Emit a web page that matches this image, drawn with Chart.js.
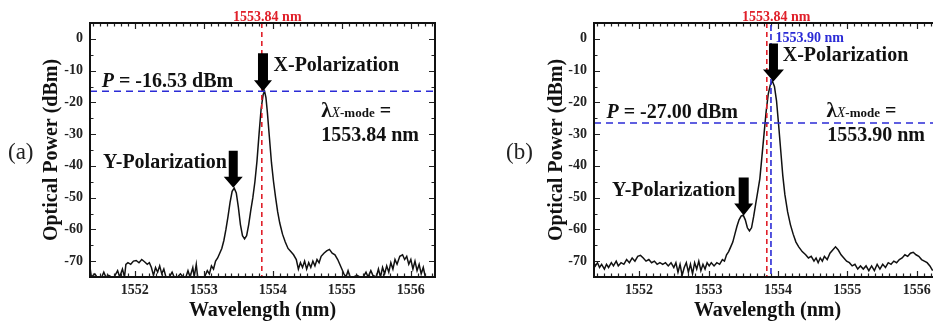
<!DOCTYPE html>
<html>
<head>
<meta charset="utf-8">
<script src="https://cdn.jsdelivr.net/npm/chart.js@4.4.0/dist/chart.umd.min.js"></script>
<style>
  html, body { margin: 0; padding: 0; overflow: hidden; background: #fff; width: 933px; height: 323px; }
  canvas { position: absolute; top: 0; }
  #chartA { left: 0; }
  #chartB { left: 470px; }
  .panel { position: absolute; font: 23px "Liberation Serif", serif; color: #222; }
</style>
</head>
<body>
<canvas id="chartA" width="470" height="323"></canvas>
<canvas id="chartB" width="490" height="323"></canvas>
<div class="panel" style="left:8px; top:139px;">(a)</div>
<div class="panel" style="left:506px; top:139px;">(b)</div>
<script>
// ---- data ----
let xTicks = [1552, 1553, 1554, 1555, 1556];
let yTicks = [0, -10, -20, -30, -40, -50, -60, -70];

// panel (a)
let wavelengthA = [
  1551.35, 1551.37, 1551.42, 1551.45, 1551.52, 1551.55, 1551.58, 1551.62, 1551.66, 1551.70,
  1551.75, 1551.78, 1551.82, 1551.85, 1551.87, 1551.90, 1551.94, 1551.98, 1552.02, 1552.06,
  1552.10, 1552.14, 1552.18, 1552.21, 1552.24, 1552.27, 1552.30, 1552.33, 1552.36, 1552.39,
  1552.42, 1552.45, 1552.50, 1552.54, 1552.57, 1552.62, 1552.66, 1552.70, 1552.74, 1552.77,
  1552.80, 1552.84, 1552.86, 1552.89, 1552.91, 1552.96, 1553.01, 1553.05, 1553.08, 1553.11,
  1553.14, 1553.17, 1553.20, 1553.23, 1553.26, 1553.29, 1553.32, 1553.35, 1553.38, 1553.41,
  1553.44, 1553.47, 1553.50, 1553.53, 1553.56, 1553.59, 1553.62, 1553.65, 1553.68, 1553.71,
  1553.74, 1553.77, 1553.80, 1553.83, 1553.86, 1553.88, 1553.90, 1553.92, 1553.95, 1553.98,
  1554.01, 1554.04, 1554.07, 1554.10, 1554.14, 1554.18, 1554.22, 1554.26, 1554.30, 1554.34,
  1554.37, 1554.40, 1554.43, 1554.46, 1554.49, 1554.52, 1554.55, 1554.58, 1554.61, 1554.64,
  1554.67, 1554.70, 1554.74, 1554.78, 1554.82, 1554.86, 1554.90, 1554.94, 1554.97, 1555.00,
  1555.03, 1555.06, 1555.09, 1555.12, 1555.17, 1555.22, 1555.26, 1555.31, 1555.35, 1555.38,
  1555.42, 1555.45, 1555.50, 1555.53, 1555.56, 1555.59, 1555.62, 1555.65, 1555.68, 1555.71,
  1555.74, 1555.77, 1555.80, 1555.84, 1555.88, 1555.91, 1555.94, 1555.97, 1556.00, 1556.03,
  1556.06, 1556.09, 1556.12, 1556.15, 1556.18, 1556.21, 1556.25, 1556.30, 1556.35
];
let powerA = [
  -72, -75, -74, -75, -75, -73.5, -75, -74.5, -75, -75,
  -73, -75, -72.5, -75, -71, -70.5, -71, -70, -69.8, -70.5,
  -69.5, -70.2, -71, -70.5, -72, -74.5, -72, -73.5, -71.5, -74,
  -72.5, -75, -75, -73.5, -75, -75, -74, -75, -75, -73,
  -75, -72, -75, -71, -75, -75, -75, -73, -74, -71.5,
  -72.5, -70, -69, -67.5, -66, -63.5, -60, -56, -51.5, -48,
  -47, -48.5, -53, -58.5, -62, -63, -62, -58.5, -54, -50,
  -45, -38.5, -30, -22, -17.5, -16.5, -18.5, -23, -31, -39,
  -45, -50, -54.5, -58, -61.5, -64, -66, -67, -68, -69.5,
  -72.5, -70.5, -72, -70, -72.5, -70.5, -72, -70, -71.5, -69.5,
  -70.5, -68.5, -67.5, -66.8, -66.3, -67.5, -68, -69.5, -71, -72.5,
  -74, -75, -73, -75, -75, -74.5, -75, -75, -73.5, -75,
  -73, -74.5, -75, -72.5, -75, -72, -74, -71.5, -73.5, -70.5,
  -72.5, -69.5, -71, -68.5, -68, -69.5, -68.5, -71, -69.5, -72.5,
  -70, -73, -71, -74, -72, -75, -75, -75, -75
];

// panel (b)
let wavelengthB = [
  1551.34, 1551.37, 1551.40, 1551.43, 1551.46, 1551.50, 1551.53, 1551.56, 1551.60, 1551.63,
  1551.67, 1551.70, 1551.74, 1551.78, 1551.82, 1551.86, 1551.90, 1551.94, 1551.98, 1552.02,
  1552.06, 1552.10, 1552.14, 1552.18, 1552.22, 1552.26, 1552.30, 1552.34, 1552.38, 1552.42,
  1552.46, 1552.50, 1552.53, 1552.56, 1552.59, 1552.62, 1552.65, 1552.68, 1552.71, 1552.74,
  1552.77, 1552.80, 1552.83, 1552.86, 1552.89, 1552.92, 1552.95, 1552.98, 1553.01, 1553.04,
  1553.08, 1553.12, 1553.16, 1553.20, 1553.23, 1553.26, 1553.29, 1553.32, 1553.35, 1553.38,
  1553.41, 1553.44, 1553.47, 1553.50, 1553.53, 1553.56, 1553.59, 1553.62, 1553.65, 1553.68,
  1553.71, 1553.74, 1553.77, 1553.80, 1553.83, 1553.86, 1553.89, 1553.92, 1553.95, 1553.98,
  1554.01, 1554.04, 1554.07, 1554.10, 1554.14, 1554.18, 1554.22, 1554.26, 1554.30, 1554.35,
  1554.40, 1554.44, 1554.48, 1554.52, 1554.55, 1554.58, 1554.61, 1554.64, 1554.67, 1554.71,
  1554.75, 1554.79, 1554.83, 1554.87, 1554.91, 1554.95, 1554.99, 1555.03, 1555.07, 1555.11,
  1555.15, 1555.19, 1555.23, 1555.27, 1555.31, 1555.35, 1555.39, 1555.43, 1555.47, 1555.51,
  1555.55, 1555.59, 1555.63, 1555.67, 1555.71, 1555.75, 1555.79, 1555.83, 1555.87, 1555.91,
  1555.95, 1555.99, 1556.03, 1556.07, 1556.11, 1556.15, 1556.19, 1556.23
];
let powerB = [
  -70, -71.5, -70.5, -72, -71, -72.5, -71, -72, -70.5, -71.5,
  -70, -71.5, -70.5, -71, -69.5, -70.5, -69, -70, -68.5, -68.2,
  -69, -70, -69.5, -70.5, -70, -71, -70.5, -71, -70.5, -71.5,
  -70.5, -72, -70.5, -73.5, -71, -74.5, -72, -70.5, -73.5, -71,
  -74, -70.5, -72.5, -70, -73, -71, -72.5, -70.5, -71.5, -70.5,
  -71.5, -70.5, -71, -69.5, -70, -68, -67, -65.5, -64, -61.5,
  -59, -57, -55.8, -55.5, -57, -59.5, -60.5, -59.5, -56, -52,
  -48, -44, -37, -30, -23, -17.5, -14.5, -13.3, -15, -19.5,
  -27, -35, -43, -49, -54.5, -58.5, -61.5, -64, -65.5, -67,
  -68, -69, -68.5, -70, -69, -70.5, -69, -70, -68.5, -69.5,
  -67.5, -66.5, -65.5, -66.5, -68, -69, -70, -70.5, -71.5, -71,
  -72.5, -71.5, -72.5, -71.5, -73, -71.5, -73, -71, -72.5, -71,
  -72, -70.5, -71, -70, -70.5, -69.5, -69, -68, -68.5, -67.5,
  -67.2, -68, -68.5, -69.5, -70, -70.5, -71.5, -73
];

let refWavelength = 1553.84;   // red marker, both panels
let modeWavelengthB = 1553.90; // blue marker, panel (b)
let powerLineA = -16.5;
let powerLineB = -26.5;

let RED = "#e0202a";
let BLUE = "#2b2bd6";
let SERIF = '"Liberation Serif", "Times New Roman", serif';

function f(size, style) {
  return (style || "bold") + " " + size + "px " + SERIF;
}

// draw text made of several pieces with different fonts on one baseline
function drawRich(ctx, parts, x, y, align) {
  ctx.textBaseline = "alphabetic";
  ctx.textAlign = "left";
  let w = 0;
  for (let p of parts) { ctx.font = p[1]; w += ctx.measureText(p[0]).width; }
  let cx = align === "center" ? x - w / 2 : x;
  for (let p of parts) {
    ctx.font = p[1];
    ctx.fillStyle = p[2] || "#111";
    ctx.fillText(p[0], cx, y);
    cx += ctx.measureText(p[0]).width;
  }
}

function drawArrow(ctx, tx, ty, len, shaft, head, headLen) {
  ctx.beginPath();
  ctx.moveTo(tx - shaft / 2, ty - len);
  ctx.lineTo(tx + shaft / 2, ty - len);
  ctx.lineTo(tx + shaft / 2, ty - headLen);
  ctx.lineTo(tx + head / 2, ty - headLen);
  ctx.lineTo(tx, ty);
  ctx.lineTo(tx - head / 2, ty - headLen);
  ctx.lineTo(tx - shaft / 2, ty - headLen);
  ctx.closePath();
  ctx.fillStyle = "#000";
  ctx.fill();
}

// frame, inward ticks, marker lines, arrows and labels
let decor = {
  id: "decor",
  afterDatasetsDraw(chart, args, opts) {
    let ctx = chart.ctx;
    let a = chart.chartArea;
    let x = chart.scales.x;
    let y = chart.scales.y;
    ctx.save();

    // ticks on all four sides
    ctx.strokeStyle = "#222";
    ctx.lineWidth = 1.2;
    ctx.beginPath();
    for (let i = Math.ceil(x.min * 10); i <= Math.floor(x.max * 10); i++) {
      let px = Math.round(x.getPixelForValue(i / 10)) + 0.5;
      let len = i % 10 === 0 ? 6 : 3.5;
      ctx.moveTo(px, a.bottom); ctx.lineTo(px, a.bottom - len);
      ctx.moveTo(px, a.top); ctx.lineTo(px, a.top + len);
    }
    for (let i = Math.ceil(y.min / 5); i <= Math.floor(y.max / 5); i++) {
      let py = Math.round(y.getPixelForValue(i * 5)) + 0.5;
      let len = i % 2 === 0 ? 6 : 3.5;
      ctx.moveTo(a.left, py); ctx.lineTo(a.left + len, py);
      ctx.moveTo(a.right, py); ctx.lineTo(a.right - len, py);
    }
    ctx.stroke();

    // dashed marker lines
    ctx.lineWidth = 1.6;
    for (let v of opts.vLines) {
      let px = x.getPixelForValue(v.value);
      ctx.strokeStyle = v.color;
      ctx.setLineDash(v.dash);
      ctx.beginPath();
      ctx.moveTo(px, a.top + (v.gap || 0));
      ctx.lineTo(px, a.bottom);
      ctx.stroke();
    }
    for (let h of opts.hLines) {
      let py = y.getPixelForValue(h.value);
      ctx.strokeStyle = h.color;
      ctx.setLineDash(h.dash);
      ctx.beginPath();
      ctx.moveTo(a.left, py);
      ctx.lineTo(a.right, py);
      ctx.stroke();
    }
    ctx.setLineDash([]);

    // frame
    ctx.strokeStyle = "#111";
    ctx.lineWidth = 2;
    ctx.strokeRect(a.left, a.top, a.right - a.left, a.bottom - a.top);

    // arrows
    for (let ar of opts.arrows) {
      drawArrow(ctx, x.getPixelForValue(ar.x), y.getPixelForValue(ar.y), ar.len, ar.shaft, ar.head, ar.headLen);
    }

    // labels
    for (let t of opts.labels) {
      drawRich(ctx, t.parts, x.getPixelForValue(t.x), y.getPixelForValue(t.y), t.align);
    }
    ctx.restore();
  }
};

function makeChart(id, xs, ys, yAxisWidth, yTitlePad, padRight, decorOpts) {
  let points = xs.map((v, i) => ({ x: v, y: ys[i] }));
  return new Chart(document.getElementById(id), {
    type: "line",
    data: {
      datasets: [{
        data: points,
        borderColor: "#111",
        borderWidth: 1.5,
        pointRadius: 0,
        tension: 0,
        fill: false
      }]
    },
    options: {
      responsive: false,
      animation: false,
      devicePixelRatio: 1,
      layout: { padding: { left: 0, top: 23, right: padRight, bottom: 0 } },
      plugins: { legend: { display: false }, tooltip: { enabled: false }, decor: decorOpts },
      scales: {
        x: {
          type: "linear",
          min: 1551.35,
          max: 1556.35,
          afterBuildTicks: s => { s.ticks = xTicks.map(v => ({ value: v })); },
          afterFit: s => { s.height = 46; },
          grid: { display: false, drawTicks: false },
          border: { display: false },
          ticks: { color: "#222", padding: 5, font: { family: SERIF, size: 14, weight: "bold" }, maxRotation: 0,
                   callback: v => String(v) },
          title: { display: true, text: "Wavelength (nm)", color: "#111", padding: { top: 0, bottom: 0 },
                   font: { family: SERIF, size: 20, weight: "bold" } }
        },
        y: {
          min: -75,
          max: 5,
          afterBuildTicks: s => { s.ticks = yTicks.map(v => ({ value: v })); },
          afterFit: s => { s.width = yAxisWidth; },
          grid: { display: false, drawTicks: false },
          border: { display: false },
          ticks: { color: "#222", padding: 7, font: { family: SERIF, size: 14, weight: "bold" },
                   callback: v => String(v) },
          title: { display: true, text: "Optical Power (dBm)", color: "#111", padding: { top: yTitlePad, bottom: 0 },
                   font: { family: SERIF, size: 20, weight: "bold" } }
        }
      }
    },
    plugins: [decor]
  });
}

let lambdaParts = [["λ", f(21)], ["X", f(14, "italic")], ["-mode", f(13)], [" =", f(20)]];

makeChart("chartA", wavelengthA, powerA, 90, 40, 35, {
  vLines: [{ value: refWavelength, color: RED, dash: [5, 4] }],
  hLines: [{ value: powerLineA, color: BLUE, dash: [7, 5] }],
  arrows: [
    { x: 1553.857, y: -16.5, len: 38, shaft: 10, head: 18, headLen: 11 },
    { x: 1553.426, y: -46.9, len: 37, shaft: 9, head: 19, headLen: 11 }
  ],
  labels: [
    { x: 1553.92, y: 5.75, align: "center", parts: [["1553.84 nm", f(14), RED]] },
    { x: 1551.52, y: -15.0, parts: [["P", f(20, "italic bold")], [" = -16.53 dBm", f(20)]] },
    { x: 1554.01, y: -10.1, parts: [["X-Polarization", f(20)]] },
    { x: 1551.54, y: -40.7, parts: [["Y-Polarization", f(20)]] },
    { x: 1554.70, y: -24.7, parts: lambdaParts },
    { x: 1554.70, y: -32.3, parts: [["1553.84 nm", f(20)]] }
  ]
});

makeChart("chartB", wavelengthB, powerB, 124, 75, 19, {
  vLines: [
    { value: refWavelength, color: RED, dash: [5, 4] },
    { value: modeWavelengthB, color: BLUE, dash: [6, 3], gap: 2 }
  ],
  hLines: [{ value: powerLineB, color: BLUE, dash: [7, 5] }],
  arrows: [
    { x: 1553.936, y: -13.4, len: 38, shaft: 9, head: 21, headLen: 12 },
    { x: 1553.507, y: -55.6, len: 38, shaft: 10, head: 19, headLen: 12 }
  ],
  labels: [
    { x: 1553.975, y: 5.75, align: "center", parts: [["1553.84 nm", f(14), RED]] },
    { x: 1553.965, y: -1.07, parts: [["1553.90 nm", f(14), BLUE]] },
    { x: 1554.07, y: -7.1, parts: [["X-Polarization", f(20)]] },
    { x: 1551.53, y: -25.0, parts: [["P", f(20, "italic bold")], [" = -27.00 dBm", f(20)]] },
    { x: 1554.70, y: -24.7, parts: lambdaParts },
    { x: 1554.71, y: -32.3, parts: [["1553.90 nm", f(20)]] },
    { x: 1551.61, y: -49.4, parts: [["Y-Polarization", f(20)]] }
  ]
});
</script>
</body>
</html>
